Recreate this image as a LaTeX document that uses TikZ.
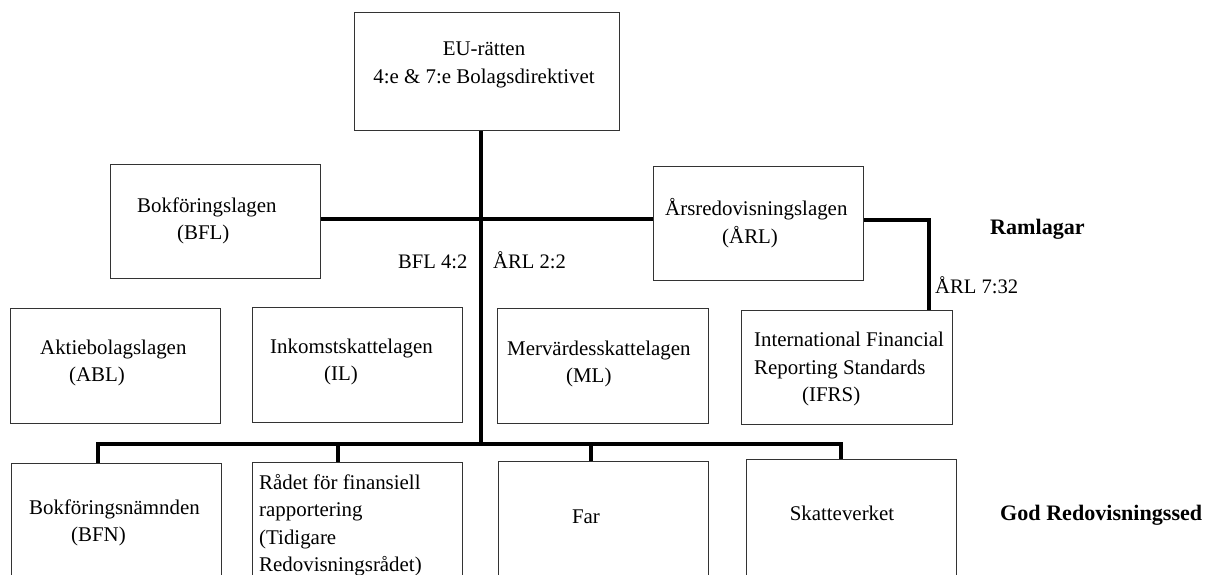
\documentclass[tikz,border=0pt]{standalone}
\usepackage{fontspec}
\setmainfont{Liberation Serif}
\usetikzlibrary{calc}
\begin{document}
\begin{tikzpicture}[x=1pt,y=-1pt,
  box/.style={draw=black!80, line width=1.3pt, inner sep=0pt, anchor=north west, minimum width=210pt},
  conn/.style={line width=4pt, line join=miter},
  txt/.style={font=\fontsize{20.9}{27.5}\selectfont, inner sep=0pt, align=left, anchor=west},
  ctxt/.style={font=\fontsize{20.9}{27.5}\selectfont, inner sep=0pt, align=center},
  ref/.style={font=\fontsize{20.6}{27}\selectfont, inner sep=0pt, anchor=base west},
  lvl/.style={font=\fontsize{22.1}{27}\selectfont\bfseries, inner sep=0pt, anchor=west}
]
\useasboundingbox (0,0) rectangle (1211,574);
\clip (0,0) rectangle (1211,574);
\fill[white] (0,0) rectangle (1211,574);

% boxes
\node[box, minimum width=265pt, minimum height=118pt] (eu) at (354,12) {};
\node[box, minimum height=114pt] (bfl) at (110,164) {};
\node[box, minimum height=114pt] (arl) at (653,166) {};
\node[box, minimum height=115pt] (abl) at (10,308) {};
\node[box, minimum height=115pt] (il) at (252,307) {};
\node[box, minimum width=211pt, minimum height=115pt] (ml) at (497,308) {};
\node[box, minimum width=211pt, minimum height=114pt] (ifrs) at (741,310) {};
\node[box, minimum height=140pt] (bfn) at (11,463) {};
\node[box, minimum height=140pt] (radet) at (252,462) {};
\node[box, minimum height=140pt] (far) at (498,461) {};
\node[box, minimum height=140pt] (skatt) at (746,459) {};

% texts
\node[ctxt] (t-eu) at (484,65) {EU-rätten\\4:e \& 7:e Bolagsdirektivet};
\node[txt] (t-bfl) at (137,221) {Bokföringslagen\\\hspace*{40pt}(BFL)};
\node[txt] (t-arl) at (665,223) {Årsredovisningslagen\\\hspace*{57pt}(ÅRL)};
\node[txt] (t-abl) at (40,363) {Aktiebolagslagen\\\hspace*{29pt}(ABL)};
\node[txt] (t-il) at (270,362) {Inkomstskattelagen\\\hspace*{54pt}(IL)};
\node[txt] (t-ml) at (507,364) {Mervärdesskattelagen\\\hspace*{59pt}(ML)};
\node[txt] (t-ifrs) at (754,369) {International Financial\\Reporting Standards\\\hspace*{48pt}(IFRS)};
\node[txt] (t-bfn) at (29,523) {Bokföringsnämnden\\\hspace*{42pt}(BFN)};
\node[txt] (t-radet) at (259,525) {Rådet för finansiell\\rapportering\\(Tidigare\\Redovisningsrådet)};
\node[ctxt] (t-far) at (586,517) {Far};
\node[ctxt] (t-skatt) at (842,513) {Skatteverket};

\node[ref] (r-bfl) at (398,268) {BFL 4:2};
\node[ref] (r-arl) at (493,268) {ÅRL 2:2};
\node[ref] (r-ifrs) at (935,293) {ÅRL 7:32};

\node[lvl] (l-ram) at (990,229) {Ramlagar};
\node[lvl] (l-god) at (1000,515) {God Redovisningssed};

% connectors
\coordinate (j) at (481,219);
\coordinate (bus) at (481,444);
\coordinate (k) at (929,220);
\coordinate (bl) at (98,444);
\coordinate (br) at (841,444);
\coordinate (d2) at (338,444);
\coordinate (d3) at (591,444);

\draw[conn] (eu.south -| j) -- (bus);
\draw[conn] (bfl.east |- j) -- (arl.west |- j);
\draw[conn] (arl.east |- k) -- (k) -- (k |- ifrs.north);
\draw[conn] (bl |- bfn.north) -- (bl) -- (br) -- (br |- skatt.north);
\draw[conn] (d2) -- (d2 |- radet.north);
\draw[conn] (d3) -- (d3 |- far.north);
\end{tikzpicture}
\end{document}
